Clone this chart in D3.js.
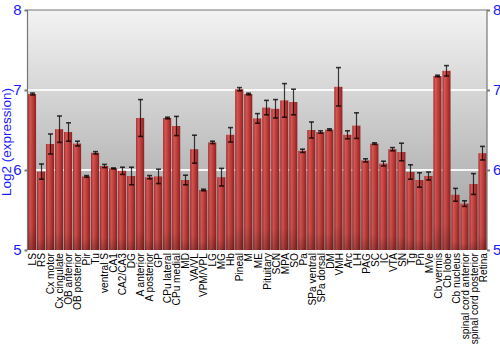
<!DOCTYPE html>
<html><head><meta charset="utf-8">
<script src="https://cdn.jsdelivr.net/npm/d3@7"></script>
<style>body{margin:0;background:#fff}svg{display:block}</style>
</head><body><svg id="c" width="500" height="350"></svg>
<script>
const categories = ["LS","RS","Cx motor","Cx cingulate","OB anterior","OB posterior","Pir","Tu","ventral S","CA1","CA2/CA3","DG","A anterior","A posterior","GP","CPu lateral","CPu medial","MD","VA/VL","VPM/VPL","LG","MG","Hb","Pineal","M","ME","Pituitary","SCN","MPA","SO","Pa","SPa ventral","SPa dorsal","DM","VMH","Arc","LH","PAG","SC","IC","VTA","SN","Tg","Pn","MVe","Cb vermis","Cb lobe","Cb nucleus","spinal cord anterior","spinal cord posterior","Retina"];
const values = [6.95,5.98,6.325,6.51,6.475,6.33,5.92,6.215,6.05,6.02,5.99,5.925,6.65,5.91,5.92,6.65,6.55,5.875,6.26,5.75,6.345,5.91,6.44,7.01,6.95,6.645,6.78,6.765,6.87,6.85,6.24,6.5,6.475,6.505,7.04,6.44,6.555,6.12,6.33,6.08,6.26,6.225,5.975,5.875,5.925,7.175,7.24,5.69,5.58,5.825,6.21];
const errors = [0.012,0.095,0.125,0.165,0.115,0.03,0.01,0.015,0.02,0.006,0.045,0.11,0.23,0.02,0.09,0.01,0.12,0.06,0.175,0.01,0.015,0.11,0.09,0.02,0.01,0.06,0.09,0.115,0.21,0.16,0.02,0.1,0.015,0.01,0.24,0.05,0.16,0.02,0.01,0.03,0.02,0.11,0.09,0.09,0.05,0.01,0.065,0.08,0.035,0.13,0.085];
const yTicks = [5,6,7,8];

const svg = d3.select("#c");
const L = 27.5, R = 487, T = 10, B = 250;
const x = d3.scaleBand().domain(categories).range([L, R]).paddingInner(0.1).paddingOuter(0.05);
const y = d3.scaleLinear().domain([5, 8]).range([B, T]);

const defs = svg.append("defs");
const bg = defs.append("linearGradient").attr("id","bg").attr("x1",0).attr("y1",0).attr("x2",0).attr("y2",1);
bg.append("stop").attr("offset","0%").attr("stop-color","#f3f3f3");
bg.append("stop").attr("offset","100%").attr("stop-color","#9c9c9c");
const bar = defs.append("linearGradient").attr("id","bar").attr("x1",0).attr("y1",0).attr("x2",1).attr("y2",0);
[["0%","#9c2a2a"],["25%","#d45856"],["55%","#c4403c"],["100%","#8e2222"]].forEach(([o,c])=>bar.append("stop").attr("offset",o).attr("stop-color",c));
const shade = defs.append("linearGradient").attr("id","shade").attr("x1",0).attr("y1",0).attr("x2",0).attr("y2",1);
shade.append("stop").attr("offset","0%").attr("stop-color","#000").attr("stop-opacity",0);
shade.append("stop").attr("offset","85%").attr("stop-color","#000").attr("stop-opacity",0.05);
shade.append("stop").attr("offset","100%").attr("stop-color","#000").attr("stop-opacity",0.25);

svg.append("rect").attr("x",L).attr("y",T).attr("width",R-L).attr("height",B-T).attr("fill","url(#bg)");

// gridlines
svg.append("g").selectAll("line").data([6,7]).join("line")
  .attr("x1",L).attr("x2",R).attr("y1",d=>y(d)).attr("y2",d=>y(d))
  .attr("stroke","#ffffff").attr("stroke-width",2).attr("opacity",0.9);

// bars
const g = svg.append("g");
g.selectAll("rect.b").data(categories).join("rect").attr("class","b")
  .attr("x",d=>x(d)).attr("width",x.bandwidth())
  .attr("y",(d,i)=>y(values[i])).attr("height",(d,i)=>B-y(values[i]))
  .attr("fill","url(#bar)");
g.selectAll("rect.s").data(categories).join("rect").attr("class","s")
  .attr("x",d=>x(d)).attr("width",x.bandwidth())
  .attr("y",(d,i)=>y(values[i])).attr("height",(d,i)=>B-y(values[i]))
  .attr("fill","url(#shade)");

// error bars
const eg = svg.append("g").attr("stroke","#000").attr("stroke-opacity",0.75).attr("stroke-width",1.2);
categories.forEach((c,i)=>{
  const cx = Math.round(x(c)+x.bandwidth()/2)+0.5;
  const y1 = y(values[i]+errors[i]), y2 = y(values[i]-errors[i]);
  eg.append("line").attr("x1",cx).attr("x2",cx).attr("y1",y1).attr("y2",y2);
  eg.append("line").attr("x1",cx-2.5).attr("x2",cx+2.5).attr("y1",y1).attr("y2",y1).attr("stroke-width",1.6);
  eg.append("line").attr("x1",cx-2.5).attr("x2",cx+2.5).attr("y1",y2).attr("y2",y2).attr("stroke-width",1.6);
});

// frame
svg.append("path").attr("d",`M${L},${B}V${T}H${R}V${B}`).attr("fill","none").attr("stroke","#777").attr("stroke-width",1.2);

// axes
const yl = svg.append("g").attr("transform",`translate(${L},0)`).call(d3.axisLeft(y).tickValues(yTicks).tickSize(3).tickFormat(d3.format("d")));
const yr = svg.append("g").attr("transform",`translate(${R},0)`).call(d3.axisRight(y).tickValues(yTicks).tickSize(3).tickFormat(d3.format("d")));
[yl,yr].forEach(a=>{
  a.select(".domain").remove();
  a.selectAll(".tick line").attr("stroke","#777").attr("stroke-width",2);
  a.selectAll("text").attr("fill","#1a1aff").attr("font-family","Liberation Sans, Arial, sans-serif").attr("font-size",15);
});

const xa = svg.append("g").attr("transform",`translate(0,${B})`).call(d3.axisBottom(x).tickSize(0));
xa.select(".domain").remove();
xa.selectAll("text").attr("font-family","Liberation Sans, Arial, sans-serif").attr("font-size",11.8).attr("fill","#000")
  .attr("transform","rotate(-90) scale(0.86,1)").attr("text-anchor","end").attr("dx",-3.5).attr("dy","0.36em").attr("x",0).attr("y",0);

svg.append("text").attr("transform",`translate(11,142) rotate(-90)`).attr("text-anchor","middle")
  .attr("font-family","Liberation Sans, Arial, sans-serif").attr("font-size",13.5).attr("fill","#1a1aff").text("Log2 (expression)");
</script></body></html>
